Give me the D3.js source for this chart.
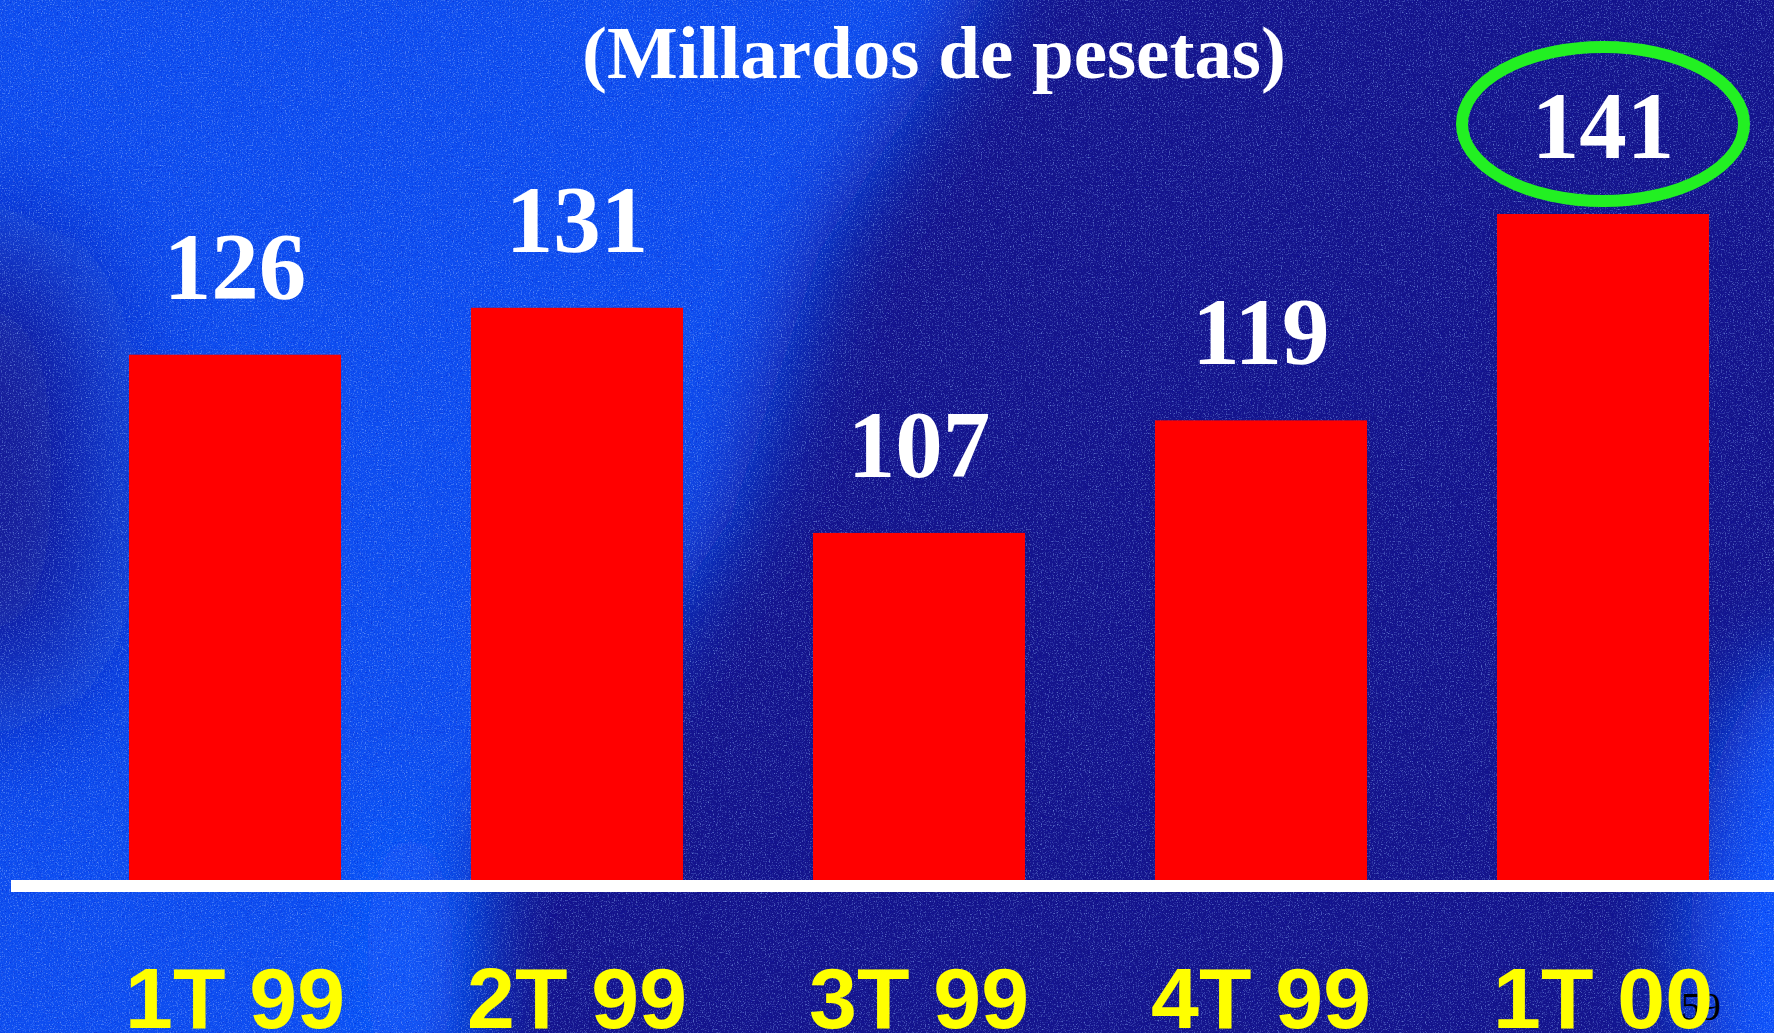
<!DOCTYPE html>
<html>
<head>
<meta charset="utf-8">
<script src="https://cdn.jsdelivr.net/npm/d3@7"></script>
<style>
html, body { margin: 0; padding: 0; overflow: hidden; background: #14148c; }
svg { display: block; }
</style>
</head>
<body>
<main></main>
<script>
// values (thousand millions of pesetas per quarter)
const quarters = ["1T 99", "2T 99", "3T 99", "4T 99", "1T 00"]
const amounts = [126, 131, 107, 119, 141]
const highlighted = "1T 00"
const title = "(Millardos de pesetas)"
const pageNumber = "59"

let data = quarters.map((q, i) => ({ quarter: q, amount: amounts[i] }))

const svgWidth = 1774
const svgHeight = 1033
const baseY = 880

let svg = d3.select("main")
    .append("svg")
    .attr("width", svgWidth)
    .attr("height", svgHeight)

//background: blurred blue shapes plus some grain
let defs = svg.append("defs")

let blur = defs.append("filter")
    .attr("id", "soft")
    .attr("filterUnits", "userSpaceOnUse")
    .attr("x", -300).attr("y", -300)
    .attr("width", svgWidth + 600).attr("height", svgHeight + 600)
blur.append("feGaussianBlur").attr("stdDeviation", 45)

let blurWide = defs.append("filter")
    .attr("id", "softer")
    .attr("filterUnits", "userSpaceOnUse")
    .attr("x", -400).attr("y", -400)
    .attr("width", svgWidth + 800).attr("height", svgHeight + 800)
blurWide.append("feGaussianBlur").attr("stdDeviation", 70)

let grainLight = defs.append("filter").attr("id", "grainLight")
grainLight.append("feTurbulence")
    .attr("type", "fractalNoise")
    .attr("baseFrequency", 0.75)
    .attr("numOctaves", 2)
    .attr("seed", 4)
grainLight.append("feColorMatrix")
    .attr("type", "matrix")
    .attr("values", "0 0 0 0 0.3  0 0 0 0 0.5  0 0 0 0 1  2.4 0 0 0 -1.25")

let grainDark = defs.append("filter").attr("id", "grainDark")
grainDark.append("feTurbulence")
    .attr("type", "fractalNoise")
    .attr("baseFrequency", 0.8)
    .attr("numOctaves", 2)
    .attr("seed", 11)
grainDark.append("feColorMatrix")
    .attr("type", "matrix")
    .attr("values", "0 0 0 0 0  0 0 0 0 0  0 0 0 0 0.4  -2.4 0 0 0 0.95")

let bg = svg.append("g")

bg.append("rect")
    .attr("width", svgWidth)
    .attr("height", svgHeight)
    .attr("fill", "#14148c")

bg.append("polygon")
    .attr("points", "-100,-100 1000,-100 980,0 820,250 730,520 610,700 470,880 450,1140 -100,1140")
    .attr("fill", "#0b4ef0")
    .attr("filter", "url(#soft)")

bg.append("ellipse")
    .attr("cx", -10).attr("cy", 470)
    .attr("rx", 110).attr("ry", 250)
    .attr("fill", "#16198e")
    .attr("filter", "url(#softer)")

bg.append("ellipse")
    .attr("cx", 1820).attr("cy", 950)
    .attr("rx", 130).attr("ry", 300)
    .attr("fill", "#0a55ff")
    .attr("filter", "url(#soft)")

bg.append("ellipse")
    .attr("cx", 410).attr("cy", 960)
    .attr("rx", 45).attr("ry", 160)
    .attr("fill", "#0e5cff")
    .attr("filter", "url(#soft)")

bg.append("rect")
    .attr("width", svgWidth)
    .attr("height", svgHeight)
    .attr("filter", "url(#grainLight)")
    .attr("opacity", 0.7)

bg.append("rect")
    .attr("width", svgWidth)
    .attr("height", svgHeight)
    .attr("filter", "url(#grainDark)")
    .attr("opacity", 0.6)

//scales
let xScale = d3.scaleBand()
    .domain(quarters)
    .range([64, svgWidth])
    .paddingInner(0.38)
    .paddingOuter(0.19)

let yScale = d3.scaleLinear()
    .domain([70, 141])
    .range([baseY, 214])

//title
svg.append("text")
    .attr("x", 934)
    .attr("y", 78)
    .attr("text-anchor", "middle")
    .attr("fill", "white")
    .style("font-family", "'Liberation Serif', 'Times New Roman', serif")
    .style("font-weight", "bold")
    .style("font-size", "75px")
    .text(title)

//bars
let graph = svg.append("g")

graph.selectAll("rect")
    .data(data)
    .enter()
    .append("rect")
    .attr("x", (d) => xScale(d.quarter))
    .attr("y", (d) => yScale(d.amount))
    .attr("width", xScale.bandwidth())
    .attr("height", (d) => baseY - yScale(d.amount))
    .attr("fill", "#ff0000")

//value labels
const labelGap = 56
graph.selectAll(".value")
    .data(data)
    .enter()
    .append("text")
    .attr("class", "value")
    .attr("x", (d) => xScale(d.quarter) + xScale.bandwidth() / 2)
    .attr("y", (d) => yScale(d.amount) - labelGap)
    .attr("text-anchor", "middle")
    .attr("fill", "white")
    .style("font-family", "'Liberation Serif', 'Times New Roman', serif")
    .style("font-weight", "bold")
    .style("font-size", "95px")
    .text((d) => d.amount)

//green ring round the last quarter
graph.selectAll(".ring")
    .data(data.filter((d) => d.quarter === highlighted))
    .enter()
    .append("ellipse")
    .attr("class", "ring")
    .attr("cx", (d) => xScale(d.quarter) + xScale.bandwidth() / 2)
    .attr("cy", (d) => yScale(d.amount) - labelGap - 34)
    .attr("rx", 141)
    .attr("ry", 77)
    .attr("fill", "none")
    .attr("stroke", "#22f022")
    .attr("stroke-width", 12)

//page number sits behind the axis labels
svg.append("text")
    .attr("x", 1681)
    .attr("y", 1020)
    .attr("fill", "black")
    .style("font-family", "'Liberation Serif', 'Times New Roman', serif")
    .style("font-size", "40px")
    .text(pageNumber)

//white base line
svg.append("line")
    .attr("x1", 11)
    .attr("x2", svgWidth)
    .attr("y1", baseY + 6)
    .attr("y2", baseY + 6)
    .attr("stroke", "white")
    .attr("stroke-width", 12)

//x axis labels
let bottomAxis = d3.axisBottom(xScale)
    .tickSize(0)
    .tickPadding(87)

let xAxis = svg.append("g")
    .attr("transform", `translate(0, ${baseY})`)
    .call(bottomAxis)

xAxis.select(".domain").remove()

xAxis.selectAll("text")
    .attr("fill", "#ffff00")
    .style("font-family", "'Liberation Sans', Arial, sans-serif")
    .style("font-weight", "bold")
    .style("font-size", "86px")
</script>
</body>
</html>
